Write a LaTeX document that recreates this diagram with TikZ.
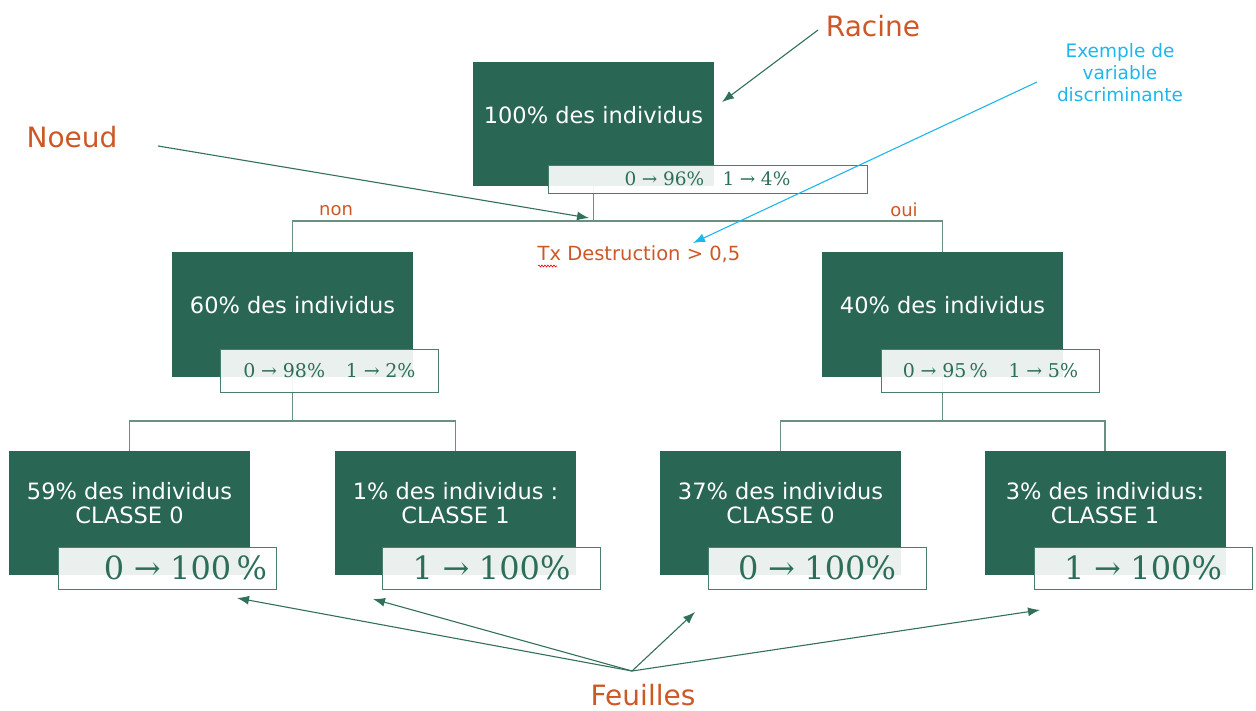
\documentclass[tikz,border=0pt]{standalone}
\usepackage{fontspec}
\newfontfamily\verd{DejaVu Sans}
\newfontfamily\numfont{DejaVu Serif}
\usepackage{xcolor}
\usetikzlibrary{positioning, arrows.meta, decorations.pathmorphing}

\definecolor{boxgreen}{RGB}{42,102,84}
\definecolor{statgreen}{RGB}{45,110,88}
\definecolor{linegreen}{RGB}{105,145,128}
\definecolor{ptrgreen}{RGB}{50,112,92}
\definecolor{rust}{RGB}{205,88,38}
\definecolor{skyblue}{RGB}{30,182,236}

% text of a green box, pushed a little above the middle
\newcommand{\boxtxt}[2][18pt]{\parbox[c][124pt][c]{241pt}{\centering #2\par\vspace{#1}}}
% class -> share
\newcommand{\share}[2]{#1\kern0.3em→\kern0.3em#2}

\begin{document}
\begin{tikzpicture}[
    x=1pt, y=-1pt,
    split/.style={
        rectangle,
        fill=boxgreen,
        text=white,
        inner sep=0pt,
        minimum width=241pt,
        minimum height=124pt,
        font=\verd\fontsize{22.5}{24}\selectfont
    },
    prop/.style={
        rectangle,
        draw=boxgreen!85!white,
        line width=0.9pt,
        fill=white,
        fill opacity=0.9,
        text opacity=1,
        text=statgreen,
        inner sep=0pt,
        minimum width=218pt,
        minimum height=42pt,
        font=\numfont\fontsize{19}{22}\selectfont
    },
    big/.style={font=\numfont\fontsize{32}{36}\selectfont},
    branch/.style={draw=linegreen, line width=1.3pt},
    pointer/.style={-{Latex[length=12pt,width=9pt]}, draw=ptrgreen, line width=1.1pt},
    tag/.style={text=rust, font=\verd\fontsize{28}{30}\selectfont},
    side/.style={text=rust, font=\verd\fontsize{18}{20}\selectfont}
]
\useasboundingbox (0,0) rectangle (1256,711);

% Tree boxes
\node[split] (root) at (593.5,124) {\boxtxt[17pt]{100\% des individus}};
\node[split] (nl) at (292.5,314.5) {\boxtxt{60\% des individus}};
\node[split] (nr) at (942.5,314.5) {\boxtxt{40\% des individus}};
\node[split] (l1) at (129.5,513) {\boxtxt[20pt]{59\% des individus\\CLASSE 0}};
\node[split] (l2) at (455.5,513) {\boxtxt[20pt]{1\% des individus :\\CLASSE 1}};
\node[split] (l3) at (780.5,513) {\boxtxt[20pt]{37\% des individus\\CLASSE 0}};
\node[split] (l4) at (1105,513) {\boxtxt[20pt]{3\% des individus:\\CLASSE 1}};

% Branches
\coordinate (s0) at (593.5,221);
\coordinate (s1) at (292.5,421);
\coordinate (s2) at (942.5,421);
\draw[branch] (root) -- (s0) -| (nl);
\draw[branch] (s0) -| (nr);
\draw[branch] (nl) -- (s1) -| (l1);
\draw[branch] (s1) -| (l2);
\draw[branch] (nr) -- (s2) -| (l3);
\draw[branch] (s2) -| (l4);

% Class proportions
\node[prop, minimum width=319pt, minimum height=28pt, font=\numfont\fontsize{18.5}{22}\selectfont] (root-p) at (707.5,179) {\share{0}{96\%}\hspace{1em}\share{1}{4\%}};
\node[prop, minimum height=43pt] (nl-p) at (329.5,370.5) {\share{0}{98\%}\hspace{1.1em}\share{1}{2\%}};
\node[prop, minimum height=43pt] (nr-p) at (990.5,370.5) {\share{0}{95\,\%}\hspace{1.1em}\share{1}{5\%}};
\node[prop, big] (l1-p) at (167.5,568) {\hspace{36pt}\share{0}{100\,\%}};
\node[prop, big] (l2-p) at (491.5,568) {\share{1}{100\%}};
\node[prop, big] (l3-p) at (817,568) {\share{0}{100\%}};
\node[prop, big] (l4-p) at (1143,568) {\share{1}{100\%}};

% Split labels
\node[side] (non) at (336,211) {non};
\node[side] (oui) at (904,209.5) {oui};
\node[side, font=\verd\fontsize{19.5}{22}\selectfont] (tx) at (639,254) {Tx Destruction > 0,5};
\draw[red, line width=0.6pt, decorate, decoration={snake, amplitude=1pt, segment length=3pt}] (538,266) -- (557,266);

% Callouts
\node[tag] (racine) at (873,26) {Racine};
\node[tag] (noeud) at (72,137) {Noeud};
\node[tag] (feuilles) at (643,695) {Feuilles};
\node[text=skyblue, align=center, font=\verd\fontsize{18.5}{22}\selectfont] (exemple) at (1120,73) {Exemple de\\variable\\discriminante};

\coordinate (r0) at (818,30);
\coordinate (r1) at (722,102);
\coordinate (n0) at (158,146);
\coordinate (n1) at (589,218);
\coordinate (e0) at (1037,82);
\coordinate (e1) at (693,243);
\coordinate (f0) at (632,671);
\coordinate (f1) at (237,598);
\coordinate (f2) at (373,599);
\coordinate (f3) at (695,612);
\coordinate (f4) at (1040,610);

\draw[pointer] (r0) -- (r1);
\draw[pointer] (n0) -- (n1);
\draw[pointer, draw=skyblue] (e0) -- (e1);
\draw[pointer] (f0) -- (f1);
\draw[pointer] (f0) -- (f2);
\draw[pointer] (f0) -- (f3);
\draw[pointer] (f0) -- (f4);

\end{tikzpicture}
\end{document}
